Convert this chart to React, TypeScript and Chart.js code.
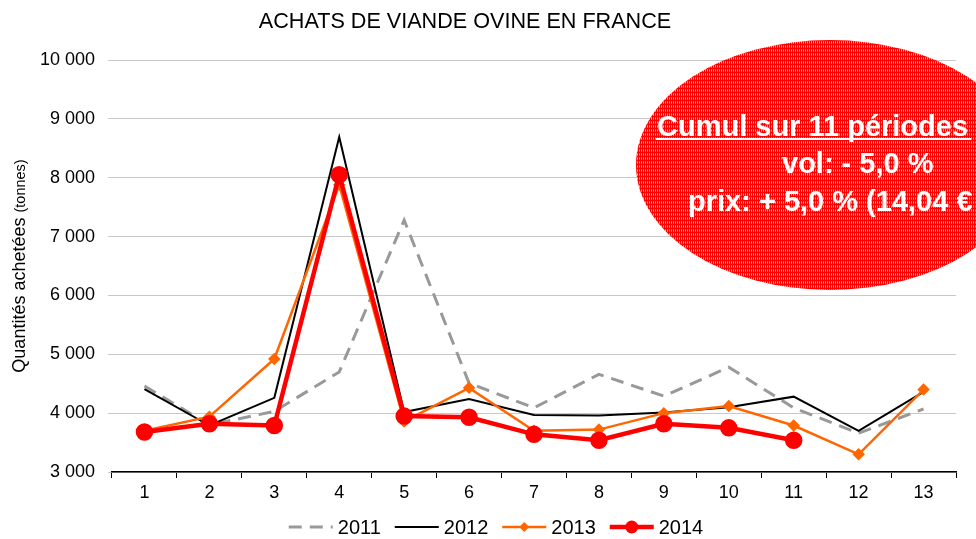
import React, { useEffect, useRef } from 'react';
import { Chart, registerables } from 'chart.js';

Chart.register(...registerables);

const categories = ['1', '2', '3', '4', '5', '6', '7', '8', '9', '10', '11', '12', '13'];
const series2011 = [4460, 3800, 4030, 4700, 7280, 4510, 4090, 4660, 4290, 4780, 4090, 3660, 4070];
const series2012 = [4410, 3790, 4260, 8690, 4020, 4240, 3970, 3960, 4010, 4100, 4280, 3700, 4360];
const series2013 = [3700, 3940, 4920, 7880, 3860, 4430, 3700, 3720, 4000, 4120, 3790, 3300, 4400];
const series2014 = [3680, 3820, 3790, 8050, 3950, 3930, 3640, 3540, 3820, 3750, 3540, null, null];
const seriesLabels = ['2011', '2012', '2013', '2014'];
const yMin = 3000;
const yMax = 10000;
const yStep = 1000;

const titleText = 'ACHATS DE VIANDE OVINE EN FRANCE';
const yTitleMain = 'Quantités achetées ';
const yTitleUnit = '(tonnes)';
const boxLines = ['Cumul sur 11 périodes', 'vol: - 5,0 %', 'prix: + 5,0 % (14,04 €'];

const FONT = "'Liberation Sans', Arial, sans-serif";

const formatThousands = (v: number) => String(v).replace(/\B(?=(\d{3})+(?!\d))/g, ' ');

function makePattern(ctx: CanvasRenderingContext2D) {
  const c = document.createElement('canvas');
  c.width = 4;
  c.height = 4;
  const g = c.getContext('2d')!;
  for (let yy = 0; yy < 4; yy++) {
    for (let xx = 0; xx < 4; xx++) {
      g.fillStyle = (xx + yy) % 2 === 0 ? '#FF6A6A' : '#FFA8A8';
      g.fillRect(xx, yy, 1, 1);
    }
  }
  g.fillStyle = '#FF0000';
  g.fillRect(0, 0, 4, 1);
  g.fillRect(0, 0, 1, 4);
  g.fillRect(2, 0, 1, 4);
  return ctx.createPattern(c, 'repeat');
}

const decorPlugin = {
  id: 'decor',
  afterDraw(chart: any) {
    const ctx: CanvasRenderingContext2D = chart.ctx;
    ctx.save();
    // Title
    ctx.fillStyle = '#000';
    ctx.font = `21.6px ${FONT}`;
    ctx.textAlign = 'center';
    ctx.textBaseline = 'alphabetic';
    ctx.fillText(titleText, 465, 28);

    // Y axis title
    ctx.save();
    ctx.translate(25, 266);
    ctx.rotate(-Math.PI / 2);
    ctx.textAlign = 'left';
    const f1 = `18px ${FONT}`;
    const f2 = `14.5px ${FONT}`;
    ctx.font = f1;
    const w1 = ctx.measureText(yTitleMain).width;
    ctx.font = f2;
    const w2 = ctx.measureText(yTitleUnit).width;
    const start = -(w1 + w2) / 2;
    ctx.font = f1;
    ctx.fillText(yTitleMain, start, 0);
    ctx.font = f2;
    ctx.fillText(yTitleUnit, start + w1, 0);
    ctx.restore();

    // Legend
    const ds = chart.data.datasets;
    ctx.font = `20px ${FONT}`;
    const sampleW = 44;
    const gap1 = 5;
    const gapItem = 14;
    const widths = ds.map((d: any) => sampleW + gap1 + ctx.measureText(d.label).width);
    const total = widths.reduce((a: number, b: number) => a + b, 0) + gapItem * (ds.length - 1);
    let x = 496 - total / 2;
    const ly = 527;
    ds.forEach((d: any, i: number) => {
      ctx.save();
      ctx.strokeStyle = d.borderColor;
      ctx.lineWidth = d.borderWidth;
      ctx.setLineDash(d.borderDash || []);
      ctx.beginPath();
      ctx.moveTo(x, ly);
      ctx.lineTo(x + sampleW, ly);
      ctx.stroke();
      ctx.setLineDash([]);
      const cx = x + sampleW / 2;
      if (d.pointStyle === 'rectRot' && d.pointRadius > 0) {
        ctx.fillStyle = d.pointBackgroundColor;
        const r = d.pointRadius + 0.5;
        ctx.beginPath();
        ctx.moveTo(cx, ly - r);
        ctx.lineTo(cx + r, ly);
        ctx.lineTo(cx, ly + r);
        ctx.lineTo(cx - r, ly);
        ctx.closePath();
        ctx.fill();
      } else if (d.pointStyle === 'circle' && d.pointRadius > 0) {
        ctx.fillStyle = d.pointBackgroundColor;
        ctx.beginPath();
        ctx.arc(cx, ly, d.pointRadius, 0, Math.PI * 2);
        ctx.fill();
      }
      ctx.restore();
      ctx.fillStyle = '#000';
      ctx.textAlign = 'left';
      ctx.textBaseline = 'middle';
      ctx.fillText(d.label, x + sampleW + gap1, ly + 1);
      x += widths[i] + gapItem;
    });

    // Ellipse callout
    ctx.save();
    ctx.beginPath();
    ctx.ellipse(830, 165, 194, 125, 0, 0, Math.PI * 2);
    ctx.fillStyle = (makePattern(ctx) as any) || '#F04848';
    ctx.fill();
    ctx.restore();

    ctx.fillStyle = '#FFFFFF';
    ctx.textAlign = 'left';
    ctx.textBaseline = 'alphabetic';
    ctx.font = `bold 29px ${FONT}`;
    ctx.fillText(boxLines[0], 657, 136);
    const uw = ctx.measureText(boxLines[0]).width;
    ctx.fillRect(656, 138, uw + 4, 2);
    ctx.fillText(boxLines[1], 782, 173);
    ctx.fillText(boxLines[2], 688, 211);
    ctx.restore();
  },
};

export default function App() {
  const ref = useRef<HTMLCanvasElement>(null);
  useEffect(() => {
    document.body.style.margin = '0';
    const chart = new Chart(ref.current!, {
      type: 'line',
      data: {
        labels: categories,
        datasets: [
          {
            label: seriesLabels[0],
            data: series2011,
            borderColor: '#999999',
            backgroundColor: '#999999',
            borderWidth: 3,
            borderDash: [13, 8],
            pointRadius: 0,
            pointStyle: 'line',
            order: 4,
          },
          {
            label: seriesLabels[1],
            data: series2012,
            borderColor: '#000000',
            backgroundColor: '#000000',
            borderWidth: 2,
            pointRadius: 0,
            pointStyle: 'line',
            order: 3,
          },
          {
            label: seriesLabels[2],
            data: series2013,
            borderColor: '#FF6600',
            backgroundColor: '#FF6600',
            pointBackgroundColor: '#FF6600',
            pointBorderColor: '#FF6600',
            borderWidth: 2.5,
            pointRadius: 4.5,
            pointStyle: 'rectRot',
            order: 2,
          },
          {
            label: seriesLabels[3],
            data: series2014,
            borderColor: '#FF0000',
            backgroundColor: '#FF0000',
            pointBackgroundColor: '#FF0000',
            pointBorderColor: '#FF0000',
            borderWidth: 4.5,
            pointRadius: 6.5,
            pointStyle: 'circle',
            order: 1,
          },
        ] as any,
      },
      options: {
        responsive: false,
        animation: false,
        layout: { padding: { top: 60, right: 20, bottom: 0, left: 0 } },
        plugins: {
          legend: { display: false },
          title: { display: false },
          tooltip: { enabled: false },
        },
        scales: {
          x: {
            type: 'category',
            offset: true,
            grid: {
              offset: true,
              drawOnChartArea: false,
              drawTicks: true,
              tickLength: 6,
              color: '#000000',
            },
            border: { display: true, color: '#000000', width: 1.5 },
            ticks: {
              color: '#000000',
              font: { family: FONT, size: 18 },
              padding: 4,
              maxRotation: 0,
            },
            afterFit: (scale: any) => {
              scale.height = 67;
            },
          },
          y: {
            min: yMin,
            max: yMax,
            grid: {
              color: '#C8C8C8',
              lineWidth: 1,
              tickLength: 4,
            },
            border: { display: false },
            ticks: {
              stepSize: yStep,
              color: '#000000',
              font: { family: FONT, size: 18 },
              padding: 13,
              callback: (v: any) => formatThousands(Number(v)),
            },
            afterFit: (scale: any) => {
              scale.width = 112;
            },
          },
        },
      },
      plugins: [decorPlugin],
    } as any);
    return () => chart.destroy();
  }, []);
  return (
    <div style={{ position: 'absolute', left: 0, top: 0, width: 976, height: 539 }}>
      <canvas ref={ref} width={976} height={539} />
    </div>
  );
}
